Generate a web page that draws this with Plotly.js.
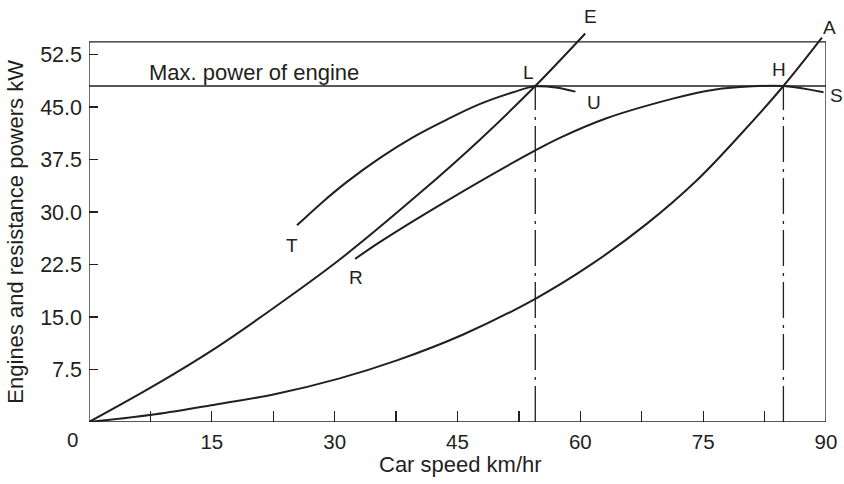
<!DOCTYPE html>
<html><head><meta charset="utf-8">
<script src="https://cdn.plot.ly/plotly-3.0.1.min.js"></script>
<style>html,body{margin:0;padding:0;background:#fff}#chart{width:844px;height:484px}</style>
</head><body><div id="chart"></div>
<script>
// Engine power curve at low gear (T–L–U)
const curveTU_x = [25.4, 28.4, 31.5, 35.5, 39.6, 43.7, 47.7, 51.8, 54.5, 57.0, 59.4];
const curveTU_y = [28.1, 31.3, 34.3, 37.7, 40.7, 43.2, 45.4, 47.1, 47.95, 47.8, 47.2];
// Engine power curve at top gear (R–H–S)
const curveRS_x = [32.5, 35.5, 43.7, 54.5, 57.5, 63.2, 71.3, 75.4, 79.5, 84.8, 89.7];
const curveRS_y = [23.3, 25.7, 31.6, 38.8, 40.6, 43.4, 46.2, 47.3, 47.85, 48.0, 47.1];
// Resistance power curve, steep road (O–L–E)
const curveE_x = [0, 8.1, 15.5, 22.8, 30.5, 40.4, 47.7, 54.5, 60.6];
const curveE_y = [0, 5.3, 10.6, 16.5, 23.1, 32.7, 40.3, 48.0, 55.5];
// Resistance power curve, level road (O–H–A)
const curveA_x = [0, 8.1, 15.5, 22.8, 30.5, 37.6, 45.7, 54.5, 61.2, 68.1, 74.2, 79.5, 84.8, 89.5];
const curveA_y = [0, 1.1, 2.5, 4.0, 6.2, 8.8, 12.5, 17.6, 22.4, 28.3, 34.5, 41.0, 48.0, 54.9];

const maxPower = 48.0;
const speedL = 54.5;
const speedH = 84.8;
const frameTop = 54.3;
const frameRight = 90;

const xTickVals = [0, 15, 30, 45, 60, 75, 90];
const xMinorVals = [7.5, 22.5, 37.5, 52.5, 67.5, 82.5];
const yTickVals = [7.5, 15.0, 22.5, 30.0, 37.5, 45.0, 52.5];

const xTitle = 'Car speed km/hr';
const yTitle = 'Engines and resistance powers kW';
const maxLabel = 'Max. power of engine';

const ink = '#231f20';
const fnt = 'Liberation Sans, Arial, Helvetica, sans-serif';

function curve(x, y) {
  return {x: x, y: y, type: 'scatter', mode: 'lines',
    line: {color: ink, width: 2, shape: 'spline', smoothing: 1},
    hoverinfo: 'skip', showlegend: false};
}

const traces = [
  curve(curveTU_x, curveTU_y),
  curve(curveRS_x, curveRS_y),
  curve(curveE_x, curveE_y),
  curve(curveA_x, curveA_y),
  {x: [0, frameRight], y: [maxPower, maxPower], type: 'scatter', mode: 'lines',
   line: {color: ink, width: 1.3}, hoverinfo: 'skip', showlegend: false},
  {x: [speedL, speedL], y: [0, maxPower], type: 'scatter', mode: 'lines',
   line: {color: ink, width: 1.3, dash: '36px,6px,3px,7px'}, hoverinfo: 'skip', showlegend: false},
  {x: [speedH, speedH], y: [0, maxPower], type: 'scatter', mode: 'lines',
   line: {color: ink, width: 1.3, dash: '36px,6px,3px,7px'}, hoverinfo: 'skip', showlegend: false}
];

function lab(text, x, y, opts, size) {
  return Object.assign({text: text, x: x, y: y, xref: 'x', yref: 'y', showarrow: false, borderpad: 0,
    font: {family: fnt, size: size || 19, color: ink}}, opts || {});
}

const layout = {
  width: 844, height: 484,
  margin: {l: 89, r: 18, t: 9, b: 62},
  paper_bgcolor: '#fff', plot_bgcolor: '#fff',
  font: {family: fnt, size: 20, color: ink},
  xaxis: {
    range: [0, 90], showgrid: false, zeroline: false, showline: false,
    tickmode: 'array', tickvals: xTickVals,
    ticktext: xTickVals.map(v => v === 0 ? '' : String(v)),
    ticks: 'inside', ticklen: 11, tickwidth: 1.3, tickcolor: ink,
    ticklabelstandoff: 5,
    minor: {tickmode: 'array', tickvals: xMinorVals, ticks: 'inside', ticklen: 11, tickwidth: 1.3, tickcolor: ink, showgrid: false},
    tickfont: {family: fnt, size: 20.5, color: ink},
    automargin: false
  },
  yaxis: {
    range: [0, 59], showgrid: false, zeroline: false, showline: false,
    tickmode: 'array', tickvals: yTickVals,
    ticktext: yTickVals.map(v => v.toFixed(1)),
    ticks: 'inside', ticklen: 9, tickwidth: 1.3, tickcolor: ink,
    ticklabelstandoff: 6,
    tickfont: {family: fnt, size: 21.5, color: ink},
    automargin: false
  },
  shapes: [
    {type: 'rect', xref: 'x', yref: 'y', x0: 0, x1: frameRight, y0: 0, y1: frameTop,
     line: {color: ink, width: 1.3}, fillcolor: 'rgba(0,0,0,0)', layer: 'above'}
  ],
  annotations: [
    lab(maxLabel, 7.2, 49.9, {xanchor: 'left'}, 22),
    lab('E', 61.2, 57.9),
    lab('A', 90, 56.4, {xshift: 3}),
    lab('L', 53.7, 49.9),
    lab('H', 84.2, 50.4),
    lab('U', 61.7, 45.6),
    lab('S', 90, 46.6, {xshift: 10}),
    lab('T', 24.8, 25.2),
    lab('R', 32.6, 20.6),
    lab('0', 0, 0, {xshift: -17, yshift: -17}, 20.5),
    {text: xTitle, xref: 'paper', yref: 'paper', x: 0.5034, y: -0.104, xanchor: 'center', yanchor: 'middle',
     showarrow: false, borderpad: 0, font: {family: fnt, size: 22, color: ink}},
    {text: yTitle, xref: 'paper', yref: 'paper', x: -0.099, y: 0.461, xanchor: 'center', yanchor: 'middle',
     textangle: -90, showarrow: false, borderpad: 0, font: {family: fnt, size: 22, color: ink}}
  ]
};

Plotly.newPlot('chart', traces, layout, {staticPlot: true, displayModeBar: false});
</script>
</body></html>
